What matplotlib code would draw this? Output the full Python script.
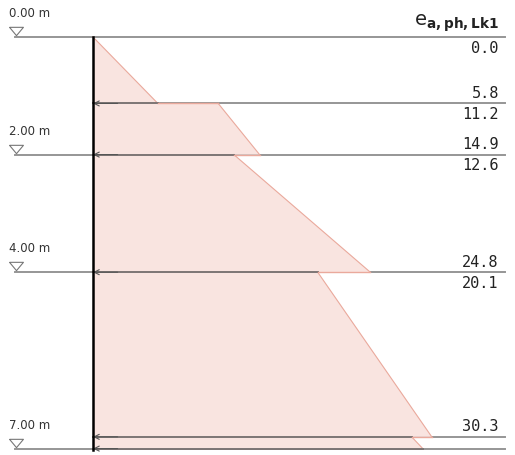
import numpy as np
import matplotlib
matplotlib.use("Agg")
import matplotlib.pyplot as plt

# layers of the earth pressure diagram (depth in m, pressure in kN/m2)
layer_top = [0.0, 1.13, 2.0, 4.0, 6.8]
layer_bot = [1.13, 2.0, 4.0, 6.8, 7.0]
e_top = [0.0, 11.2, 12.6, 20.1, 28.5]
e_bot = [5.8, 14.9, 24.8, 30.3, 29.5]

# levels with a depth marker
levels = [0.0, 2.0, 4.0, 7.0]
level_labels = ["0.00 m", "2.00 m", "4.00 m", "7.00 m"]

# which layers get their values written at the right
labelled = [0, 1, 2, 3]

title = "e$_{\\mathbf{a,ph,Lk1}}$"

fill_col = "#f9e4e0"
edge_col = "#eaa99c"
line_col = "#969696"

fig = plt.figure(figsize=(5.15, 4.55), dpi=100)
ax = fig.add_axes([0, 0, 1, 1])
ax.set_xlim(-93 / 11.18, 422 / 11.18)
ax.set_ylim((455 - 37) / 58.8, -37 / 58.8)
ax.axis("off")

x_left = -6.98
x_right = 36.85

# horizontal lines at every boundary
bounds = sorted(set(layer_top + layer_bot))
for d in bounds:
    start = x_left if d in levels else 0
    ax.plot([start, x_right], [d, d], color=line_col, lw=1.4, zorder=1)

# pressure polygons
for t, b, et, eb in zip(layer_top, layer_bot, e_top, e_bot):
    ax.fill([0, et, eb, 0], [t, t, b, b], color=fill_col, lw=0, zorder=2)
    ax.plot([et, eb], [t, b], color=edge_col, lw=0.8, zorder=3)

# boundary line where two layers touch: dark part under both, pink part under one
for i in range(len(layer_bot) - 1):
    d = layer_bot[i]
    lo = min(e_bot[i], e_top[i + 1])
    hi = max(e_bot[i], e_top[i + 1])
    ax.plot([0, lo], [d, d], color="#7d7575", lw=1.4, zorder=3)
    ax.plot([lo, hi], [d, d], color=edge_col, lw=1.0, zorder=3)
ax.plot([0, e_bot[-1]], [layer_bot[-1]] * 2, color="#7d7575", lw=1.4, zorder=3)

# arrows pointing at the wall
for d in bounds[1:]:
    ax.annotate("", xy=(0, d), xytext=(2.2, d),
                arrowprops=dict(arrowstyle="->", color="#555555", lw=0.8,
                                shrinkA=0, shrinkB=0, mutation_scale=9),
                zorder=4)

# level markers
tri = [(-1, 0.6), (1, 0.6), (0, -0.6), (-1, 0.6)]
for d, lab in zip(levels, level_labels):
    ax.plot(-6.89, d - 0.10, marker=tri, ms=10, mfc="white",
            mec="#777777", mew=0.8, zorder=5)
    ax.text(-7.5, d - 0.29, lab, fontsize=8.5, color="#333333",
            ha="left", va="bottom")

# wall
ax.plot([0, 0], [0, layer_bot[-1] + 0.02], color="black", lw=1.8, zorder=6)

# values
for i in labelled:
    ax.text(36.3, layer_top[i] + 0.06, f"{e_top[i]:.1f}", fontsize=11,
            family="DejaVu Sans Mono", color="#222222", ha="right", va="top")
    ax.text(36.3, layer_bot[i] - 0.04, f"{e_bot[i]:.1f}", fontsize=11,
            family="DejaVu Sans Mono", color="#222222", ha="right",
            va="bottom")

ax.text(36.3, -0.05, title, fontsize=14, color="#222222", ha="right",
        va="bottom")

fig.savefig("out.png", dpi=100)
